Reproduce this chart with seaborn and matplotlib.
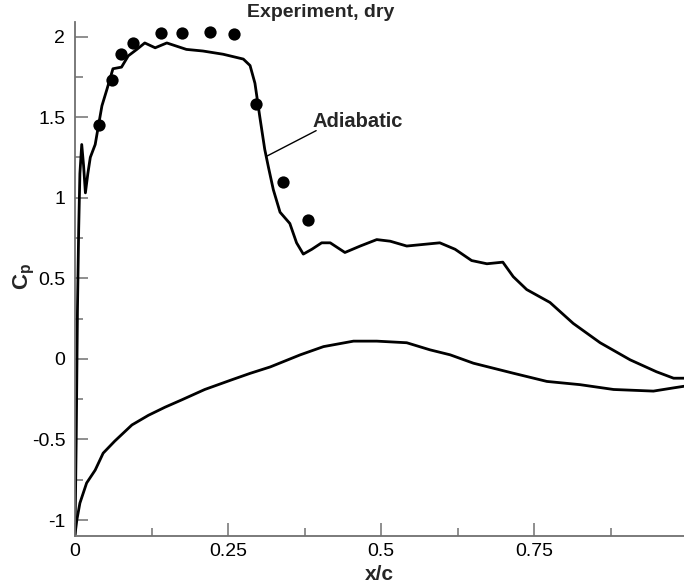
import matplotlib
matplotlib.use("Agg")
import matplotlib.pyplot as plt
from matplotlib.ticker import MultipleLocator
import seaborn as sns
import pandas as pd

# ---- data ----
upper_x = [0.0, 0.002, 0.004, 0.006, 0.008, 0.011, 0.014, 0.017, 0.021, 0.025, 0.033, 0.038,
           0.044, 0.052, 0.062, 0.076, 0.087, 0.101, 0.114, 0.131, 0.150, 0.182, 0.209, 0.242,
           0.275, 0.286, 0.294, 0.302, 0.310, 0.316, 0.324, 0.335, 0.351, 0.362, 0.373, 0.387,
           0.403, 0.417, 0.441, 0.466, 0.493, 0.515, 0.542, 0.569, 0.596, 0.621, 0.648, 0.673,
           0.699, 0.716, 0.738, 0.776, 0.814, 0.858, 0.907, 0.950, 0.978, 0.995]
upper_cp = [-1.09, -0.5, 0.3, 0.8, 1.15, 1.33, 1.2, 1.03, 1.15, 1.25, 1.33, 1.44,
            1.57, 1.67, 1.80, 1.81, 1.88, 1.92, 1.96, 1.93, 1.96, 1.92, 1.91, 1.89,
            1.86, 1.82, 1.71, 1.50, 1.30, 1.19, 1.05, 0.91, 0.84, 0.72, 0.65, 0.68,
            0.72, 0.72, 0.66, 0.70, 0.74, 0.73, 0.70, 0.71, 0.72, 0.68, 0.61, 0.59,
            0.60, 0.51, 0.43, 0.35, 0.22, 0.10, -0.006, -0.08, -0.12, -0.12]

lower_x = [0.0, 0.003, 0.008, 0.019, 0.033, 0.046, 0.065, 0.093, 0.12, 0.147, 0.174, 0.212,
           0.256, 0.286, 0.319, 0.368, 0.406, 0.455, 0.493, 0.542, 0.58, 0.613, 0.651, 0.694,
           0.716, 0.771, 0.825, 0.88, 0.945, 0.978, 0.995]
lower_cp = [-1.09, -1.0, -0.895, -0.77, -0.69, -0.585, -0.51, -0.41, -0.35, -0.30, -0.255, -0.19,
            -0.13, -0.09, -0.05, 0.025, 0.076, 0.11, 0.11, 0.10, 0.056, 0.025, -0.027, -0.068,
            -0.089, -0.14, -0.16, -0.19, -0.20, -0.18, -0.17]

exp_x = [0.040, 0.060, 0.075, 0.094, 0.140, 0.175, 0.221, 0.260, 0.295, 0.340, 0.380]
exp_cp = [1.45, 1.73, 1.89, 1.96, 2.02, 2.02, 2.03, 2.015, 1.58, 1.095, 0.86]

x_ticks = [0, 0.25, 0.5, 0.75]
x_tick_labels = ["0", "0.25", "0.5", "0.75"]
y_ticks = [-1, -0.5, 0, 0.5, 1, 1.5, 2]
y_tick_labels = ["-1", "-0.5", "0", "0.5", "1", "1.5", "2"]

# ---- style ----
sns.set_theme(style="white")
plt.rcParams["font.family"] = ["Liberation Sans", "DejaVu Sans"]
plt.rcParams["mathtext.fontset"] = "custom"
plt.rcParams["mathtext.rm"] = "Liberation Sans"
plt.rcParams["mathtext.bf"] = "Liberation Sans:bold"

W, H = 684, 585
fig = plt.figure(figsize=(W / 100, H / 100), dpi=100)
ax = fig.add_axes([75 / W, 1 - 536 / H, (W - 75) / W, (536 - 22) / H])

up = pd.DataFrame({"x": upper_x, "cp": upper_cp})
lo = pd.DataFrame({"x": lower_x, "cp": lower_cp})
ex = pd.DataFrame({"x": exp_x, "cp": exp_cp})

line_kw = dict(sort=False, estimator=None, color="black", lw=2.0,
               solid_joinstyle="round", solid_capstyle="round", ax=ax)
sns.lineplot(data=up, x="x", y="cp", **line_kw)
sns.lineplot(data=lo, x="x", y="cp", **line_kw)
sns.scatterplot(data=ex, x="x", y="cp", color="black", s=78, linewidth=0, zorder=4, ax=ax)

ax.set_xlim(0, 0.995)
ax.set_ylim(-1.099, 2.09)

ax.set_xticks(x_ticks)
ax.set_xticklabels(x_tick_labels)
ax.set_yticks(y_ticks)
ax.set_yticklabels(y_tick_labels)
ax.xaxis.set_minor_locator(MultipleLocator(0.125))
ax.yaxis.set_minor_locator(MultipleLocator(0.25))

for s in ["top", "right"]:
    ax.spines[s].set_visible(False)
for s in ["left", "bottom"]:
    ax.spines[s].set_color("#707070")
    ax.spines[s].set_linewidth(1.3)

ax.tick_params(which="major", direction="in", length=9.5, width=1.1, color="#707070",
               labelsize=14, labelcolor="black")
ax.tick_params(which="minor", direction="in", length=5.5, width=1.1, color="#707070")
ax.tick_params(axis="x", which="major", pad=5, bottom=True)
ax.tick_params(axis="x", which="minor", bottom=True)
ax.tick_params(axis="y", which="major", pad=7, left=True)
ax.tick_params(axis="y", which="minor", left=True)

ax.set_xlabel("x/c", fontsize=15, fontweight="bold")
ax.xaxis.set_label_coords(0.5, -0.056)
ax.set_ylabel(r"$\mathbf{C_p}$", fontsize=16)
ax.yaxis.set_label_coords(-0.062, 0.505)

ax.text(0.4624, 1.471, "Adiabatic", ha="center", va="center", fontsize=14.5, fontweight="bold")
ax.plot([0.313, 0.394], [1.257, 1.416], color="black", lw=1.0)
ax.text(0.402, 2.151, "Experiment, dry", ha="center", va="center", fontsize=14,
        fontweight="bold", clip_on=False)

fig.savefig("out.png", dpi=100)
